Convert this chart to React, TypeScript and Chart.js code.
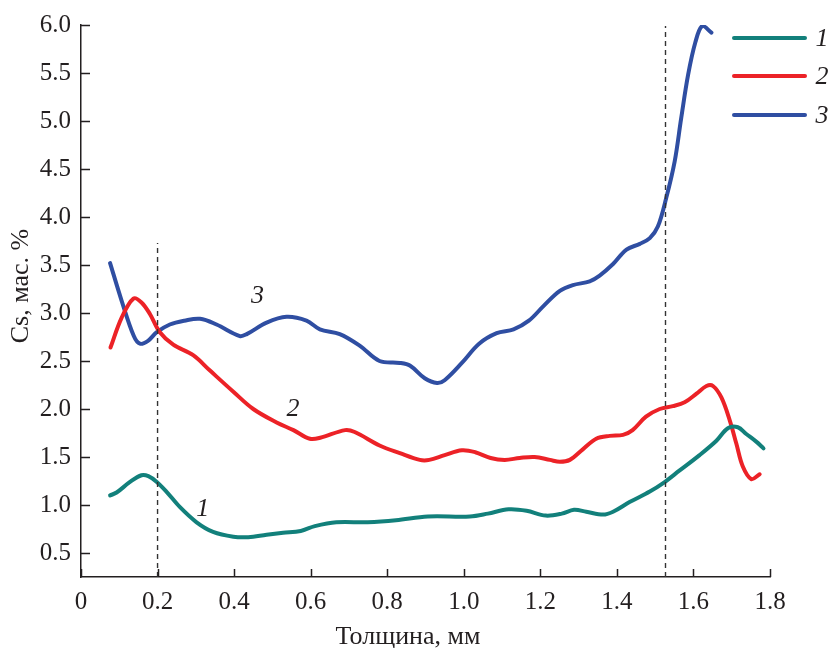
import React, { useEffect, useRef } from "react";
import { Chart, registerables } from "chart.js";

Chart.register(...registerables);

// ---- data ----
const seriesNames = ["1", "2", "3"];
const seriesColors = ["#12807b", "#ec2227", "#2f4ea2"];

const s1X = [0.076, 0.093, 0.128, 0.158, 0.176, 0.198, 0.223, 0.258, 0.302, 0.345, 0.398, 0.437, 0.485, 0.528, 0.574, 0.611, 0.667, 0.749, 0.823, 0.906, 1.016, 1.063, 1.117, 1.164, 1.214, 1.256, 1.288, 1.32, 1.364, 1.39, 1.433, 1.486, 1.52, 1.564, 1.616, 1.66, 1.69, 1.716, 1.738, 1.764, 1.783];
const s1Y = [1.10, 1.13, 1.24, 1.31, 1.30, 1.24, 1.14, 0.98, 0.82, 0.72, 0.67, 0.665, 0.69, 0.71, 0.73, 0.78, 0.82, 0.82, 0.84, 0.88, 0.88, 0.91, 0.955, 0.94, 0.89, 0.91, 0.95, 0.93, 0.90, 0.93, 1.03, 1.14, 1.225, 1.36, 1.52, 1.67, 1.80, 1.81, 1.74, 1.66, 1.59];

const s2X = [0.077, 0.106, 0.137, 0.158, 0.18, 0.206, 0.241, 0.293, 0.337, 0.398, 0.45, 0.511, 0.555, 0.598, 0.625, 0.69, 0.715, 0.78, 0.833, 0.885, 0.91, 0.95, 0.995, 1.03, 1.07, 1.107, 1.146, 1.185, 1.225, 1.251, 1.277, 1.311, 1.346, 1.381, 1.416, 1.441, 1.476, 1.512, 1.546, 1.577, 1.608, 1.634, 1.651, 1.673, 1.695, 1.712, 1.729, 1.751, 1.773];
const s2Y = [2.64, 2.95, 3.15, 3.11, 2.99, 2.80, 2.67, 2.56, 2.40, 2.18, 2.00, 1.86, 1.78, 1.69, 1.70, 1.78, 1.76, 1.62, 1.54, 1.47, 1.47, 1.52, 1.57, 1.55, 1.49, 1.47, 1.49, 1.50, 1.47, 1.45, 1.47, 1.58, 1.69, 1.72, 1.73, 1.78, 1.92, 2.00, 2.03, 2.07, 2.16, 2.24, 2.24, 2.12, 1.88, 1.64, 1.40, 1.27, 1.32];

const s3X = [0.076, 0.106, 0.138, 0.154, 0.175, 0.198, 0.232, 0.27, 0.311, 0.354, 0.415, 0.433, 0.485, 0.537, 0.589, 0.624, 0.676, 0.728, 0.78, 0.833, 0.86, 0.898, 0.93, 0.95, 0.995, 1.04, 1.086, 1.13, 1.17, 1.21, 1.251, 1.285, 1.329, 1.355, 1.39, 1.425, 1.46, 1.486, 1.507, 1.529, 1.551, 1.568, 1.586, 1.605, 1.623, 1.647];
const s3Y = [3.52, 3.13, 2.76, 2.68, 2.71, 2.80, 2.88, 2.92, 2.94, 2.88, 2.76, 2.78, 2.90, 2.96, 2.92, 2.83, 2.78, 2.66, 2.50, 2.48, 2.45, 2.32, 2.27, 2.30, 2.48, 2.68, 2.79, 2.83, 2.92, 3.08, 3.23, 3.29, 3.33, 3.39, 3.51, 3.66, 3.72, 3.78, 3.90, 4.20, 4.58, 5.03, 5.48, 5.82, 5.99, 5.92];

// dashed boundary markers: x position, top y value
const markerX = [0.2, 1.527];
const markerTop = [3.73, 5.99];

// in-plot curve labels
const curveLabelX = [0.318, 0.554, 0.461];
const curveLabelY = [0.96, 2.0, 3.18];

const xTicks = [0, 0.2, 0.4, 0.6, 0.8, 1.0, 1.2, 1.4, 1.6, 1.8];
const yTicks = [0.5, 1.0, 1.5, 2.0, 2.5, 3.0, 3.5, 4.0, 4.5, 5.0, 5.5, 6.0];
const X_MIN = 0, X_MAX = 1.8, Y_MIN = 0.25, Y_MAX = 6.0;

const xTitle = "Толщина, мм";
const yTitle = "Cs, мас. %";

const FONT = "'Liberation Serif', 'Times New Roman', serif";
const INK = "#231f20";

const decorPlugin = {
  id: "decor",
  afterDraw(chart: any) {
    const { ctx, chartArea, scales } = chart;
    const x = scales.x, y = scales.y;
    ctx.save();
    // inward ticks
    ctx.strokeStyle = INK;
    ctx.lineWidth = 1.5;
    ctx.beginPath();
    xTicks.forEach((v) => {
      const px = Math.round(x.getPixelForValue(v)) + 0.5;
      ctx.moveTo(px, chartArea.bottom);
      ctx.lineTo(px, chartArea.bottom - 8);
    });
    yTicks.forEach((v) => {
      const py = Math.round(y.getPixelForValue(v)) + 0.5;
      ctx.moveTo(chartArea.left, py);
      ctx.lineTo(chartArea.left + 9, py);
    });
    ctx.stroke();

    // curve labels
    ctx.fillStyle = INK;
    ctx.font = `italic 26px ${FONT}`;
    ctx.textAlign = "center";
    ctx.textBaseline = "middle";
    seriesNames.forEach((n, i) => {
      ctx.fillText(n, x.getPixelForValue(curveLabelX[i]), y.getPixelForValue(curveLabelY[i]));
    });

    // legend
    const legY = [38, 76, 115];
    seriesNames.forEach((n, i) => {
      ctx.strokeStyle = seriesColors[i];
      ctx.lineWidth = 4;
      ctx.lineCap = "round";
      ctx.beginPath();
      ctx.moveTo(734, legY[i]);
      ctx.lineTo(805, legY[i]);
      ctx.stroke();
      ctx.fillStyle = INK;
      ctx.fillText(n, 822, legY[i] + 1);
    });

    // axis titles
    ctx.font = `26px ${FONT}`;
    ctx.textAlign = "center";
    ctx.textBaseline = "alphabetic";
    ctx.fillText(xTitle, 408, 644);
    ctx.translate(28, 286);
    ctx.rotate(-Math.PI / 2);
    ctx.fillText(yTitle, 0, 0);
    ctx.restore();
  },
};

export default function App() {
  const ref = useRef<HTMLCanvasElement | null>(null);

  useEffect(() => {
    if (!ref.current) return;
    const mk = (xs: number[], ys: number[]) => xs.map((v, i) => ({ x: v, y: ys[i] }));
    const lineSets = [mk(s1X, s1Y), mk(s2X, s2Y), mk(s3X, s3Y)].map((d, i) => ({
      label: seriesNames[i],
      data: d,
      borderColor: seriesColors[i],
      backgroundColor: seriesColors[i],
      borderWidth: 4,
      pointRadius: 0,
      tension: 0.35,
      borderCapStyle: "round" as const,
      borderJoinStyle: "round" as const,
      fill: false,
    }));
    const dashSets = markerX.map((mx, i) => ({
      label: "marker" + i,
      data: [{ x: mx, y: Y_MIN }, { x: mx, y: markerTop[i] }],
      borderColor: "#333",
      borderWidth: 1.4,
      borderDash: [5, 4],
      pointRadius: 0,
      fill: false,
    }));

    const chart = new Chart(ref.current, {
      type: "line",
      data: { datasets: [...dashSets, ...lineSets] as any },
      options: {
        responsive: false,
        animation: false,
        layout: { padding: { left: 0, top: 23, right: 62, bottom: 0 } },
        plugins: { legend: { display: false }, tooltip: { enabled: false } },
        scales: {
          x: {
            type: "linear",
            min: X_MIN,
            max: X_MAX,
            afterBuildTicks: (s: any) => { s.ticks = xTicks.map((v) => ({ value: v })); },
            afterFit: (s: any) => { s.height = 71; },
            grid: { display: false, drawTicks: false },
            border: { display: true, color: INK, width: 1.5 },
            ticks: {
              padding: 10,
              color: INK,
              font: { family: FONT, size: 25 },
              callback: (v: any) => (Number(v) === 0 ? "0" : Number(v).toFixed(1)),
              maxRotation: 0,
              autoSkip: false,
            },
          },
          y: {
            type: "linear",
            min: Y_MIN,
            max: Y_MAX,
            afterBuildTicks: (s: any) => { s.ticks = yTicks.map((v) => ({ value: v })); },
            afterFit: (s: any) => { s.width = 81; },
            grid: { display: false, drawTicks: false },
            border: { display: true, color: INK, width: 1.5 },
            ticks: {
              padding: 10,
              color: INK,
              font: { family: FONT, size: 25 },
              callback: (v: any) => Number(v).toFixed(1),
              autoSkip: false,
            },
          },
        },
      },
      plugins: [decorPlugin],
    });
    return () => chart.destroy();
  }, []);

  return (
    <div style={{ position: "absolute", left: 0, top: 0, width: 832, height: 648, background: "#fff" }}>
      <canvas ref={ref} width={832} height={648} style={{ width: 832, height: 648 }} />
    </div>
  );
}
